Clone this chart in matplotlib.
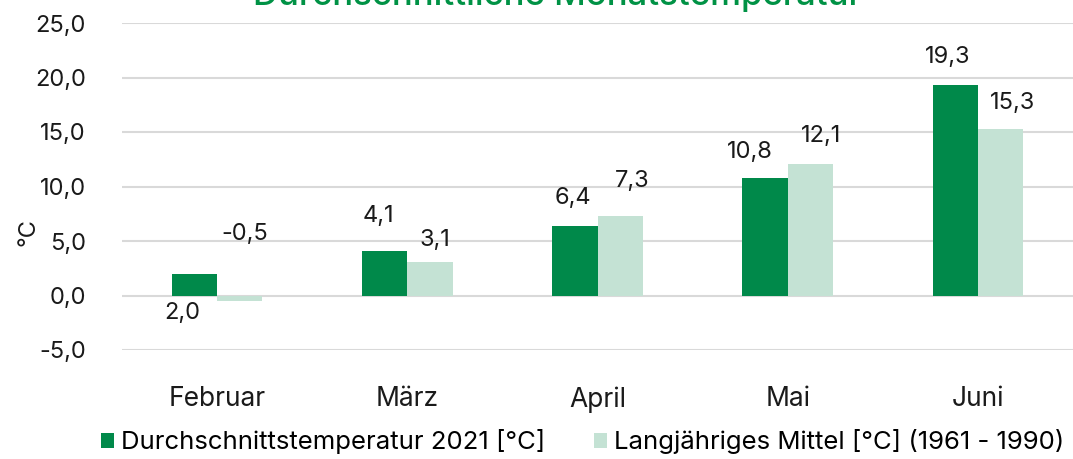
import numpy as np
import matplotlib
matplotlib.use("Agg")
from matplotlib import pyplot as plt

# Data
monate = ["Februar", "März", "April", "Mai", "Juni"]
temp_2021 = [2.0, 4.1, 6.4, 10.8, 19.3]
mittel_1961_1990 = [-0.5, 3.1, 7.3, 12.1, 15.3]

# label placement (layout only): vertical offset in °C, horizontal offset in px
off_y_2021 = [-3.65, 3.2, 2.5, 2.4, 2.6]
off_y_mittel = [6.1, 2.0, 3.2, 2.5, 2.4]
off_x_2021 = [-12, -6, -2, -15, -8]
off_x_mittel = [5, 5, 12, 11, 12]

dunkel = "#00894A"
hell = "#C4E2D4"
plt.rcParams['font.family'] = ['Inter', 'DejaVu Sans']

fig = plt.figure(figsize=(10.73, 4.59), dpi=100)
ax = fig.add_axes([122 / 1073, 1 - 350 / 459, 1 - 122 / 1073, (350 - 23) / 459])

x = np.arange(len(monate))
w = 0.238
ax.bar(x - w / 2, temp_2021, w, color=dunkel, label="Durchschnittstemperatur 2021 [°C]", zorder=3)
ax.bar(x + w / 2, mittel_1961_1990, w, color=hell, label="Langjähriges Mittel [°C] (1961 - 1990)", zorder=3)

px = 1 / 189  # one pixel in category units
for i in range(len(monate)):
    ax.text(x[i] - w / 2 + off_x_2021[i] * px, temp_2021[i] + off_y_2021[i],
            f"{temp_2021[i]:.1f}".replace(".", ","), ha="center", va="center", fontsize=17, color="#1a1a1a")
    ax.text(x[i] + w / 2 + off_x_mittel[i] * px, mittel_1961_1990[i] + off_y_mittel[i],
            f"{mittel_1961_1990[i]:.1f}".replace(".", ","), ha="center", va="center", fontsize=17, color="#1a1a1a")

ax.set_xlim(-0.5, 4.5)
ax.set_ylim(-5, 25)
ax.set_yticks(np.arange(-5, 26, 5))
ax.set_yticklabels([f"{v:.1f}".replace(".", ",") for v in np.arange(-5, 26, 5)])
ax.set_xticks(x)
ax.set_xticklabels(monate)
ax.tick_params(axis="both", length=0, colors="#1a1a1a")
ax.tick_params(axis="y", pad=26, labelsize=17)
ax.tick_params(axis="x", pad=26, labelsize=19)
ax.grid(axis="y", color="#D9D9D9", linewidth=1.5, zorder=0)
for s in ax.spines.values():
    s.set_visible(False)

fig.text(28 / 1073, 1 - 232 / 459, "°C", rotation=90, ha="center", va="center", fontsize=17, color="#1a1a1a")
fig.text(557 / 1073, 1 - 5 / 459, "Durchschnittliche Monatstemperatur", ha="center", va="baseline",
         fontsize=25, fontweight="medium", color="#009245")

fig.legend(loc="center", bbox_to_anchor=(583 / 1073, 1 - 442 / 459), ncol=2, frameon=False,
           fontsize=18.5, handlelength=0.5, handleheight=0.5, handletextpad=0.28, columnspacing=1.9,
           borderaxespad=0, borderpad=0)

fig.savefig("out.png", dpi=100)
